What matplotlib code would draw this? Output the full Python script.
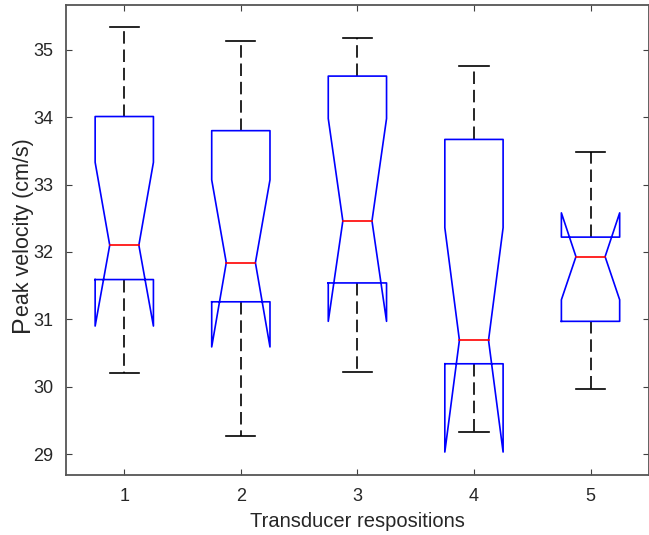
import numpy as np
import matplotlib.pyplot as plt

positions = [1, 2, 3, 4, 5]
q1 = [31.59, 31.26, 31.54, 30.34, 30.97]
medians = [32.10, 31.84, 32.46, 30.69, 31.93]
q3 = [34.01, 33.80, 34.61, 33.67, 32.22]
notch_lo = [30.90, 30.59, 30.97, 29.03, 31.29]
notch_hi = [33.33, 33.07, 33.98, 32.36, 32.58]
whisk_lo = [30.21, 29.27, 30.22, 29.33, 29.97]
whisk_hi = [35.34, 35.13, 35.18, 34.76, 33.48]

plt.rcParams['font.family'] = ['Liberation Sans', 'DejaVu Sans']
txt = '#262626'

fig = plt.figure(figsize=(6.49, 5.35), dpi=100)
ax = fig.add_axes([0.1017, 0.112, 0.898, 0.879])

w = 0.25    # half width of box
nw = 0.125  # half width at notch
lw = 1.2
for i, x in enumerate(positions):
    # whiskers
    ax.plot([x, x], [q3[i], whisk_hi[i]], color='black', lw=lw, ls=(0, (7.5, 3.5)))
    ax.plot([x, x], [q1[i], whisk_lo[i]], color='black', lw=lw, ls=(0, (7.5, 3.5)))
    ax.plot([x - nw, x + nw], [whisk_hi[i]] * 2, color='black', lw=lw)
    ax.plot([x - nw, x + nw], [whisk_lo[i]] * 2, color='black', lw=lw)
    # notched box outline
    xs = [x - w, x - w, x - nw, x - w, x - w, x + w, x + w, x + nw, x + w, x + w, x - w]
    ys = [q1[i], notch_lo[i], medians[i], notch_hi[i], q3[i], q3[i],
          notch_hi[i], medians[i], notch_lo[i], q1[i], q1[i]]
    ax.plot(xs, ys, color='blue', lw=lw)
    ax.plot([x - nw, x + nw], [medians[i]] * 2, color='red', lw=lw)

ax.set_xlim(0.5, 5.5)
ax.set_ylim(28.688, 35.668)
ax.set_xticks(positions)
ax.set_yticks(np.arange(29, 36))
ax.tick_params(direction='in', top=True, right=True, length=4, pad=9,
               colors='#404040', labelcolor=txt, labelsize=13)
for s in ax.spines.values():
    s.set_color('#555555')
    s.set_linewidth(1.3)

ax.set_xlabel('Transducer respositions', fontsize=14.5, color=txt, labelpad=5)

# y label with a larger leading capital
p_size, rest_size = 18, 15.5
y0 = 0.379
fig.text(0.044, y0, 'P', fontsize=p_size, color=txt, rotation=90,
         rotation_mode='anchor', ha='left', va='baseline')
p_adv = 0.667 * p_size / 72 / 5.35
fig.text(0.044, y0 + p_adv, 'eak velocity (cm/s)', fontsize=rest_size, color=txt,
         rotation=90, rotation_mode='anchor', ha='left', va='baseline')

fig.savefig('out.png', dpi=100)
